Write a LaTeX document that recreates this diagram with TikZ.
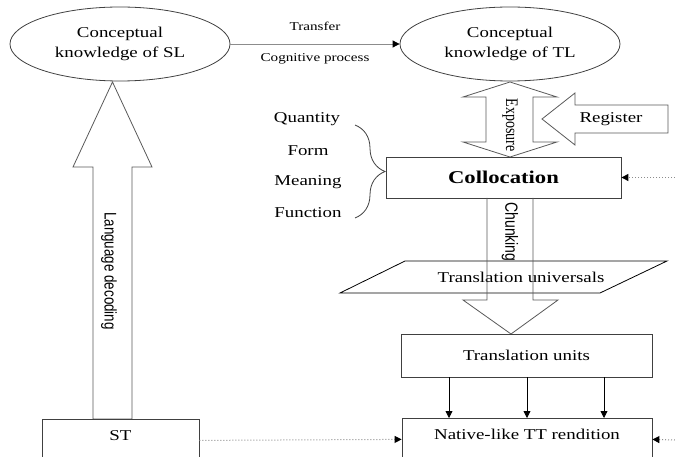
\documentclass[tikz,border=0pt]{standalone}
\usepackage{fontspec}
\usepackage{graphicx}
\setmainfont{Liberation Serif}
\setsansfont{Liberation Sans}
\usetikzlibrary{arrows.meta, shapes.geometric, decorations.pathreplacing}

% the scanned figure is wider than tall
\newcommand{\wide}[1]{\scalebox{1.26}[1]{#1}}
\newcommand{\tall}[1]{\scalebox{1}[1.26]{#1}}
\newcommand{\twolines}[2]{\wide{\begin{tabular}{@{}c@{}}#1\\#2\end{tabular}}}

\tikzset{
  oval/.style={draw=black!75, ellipse, minimum width=220pt, minimum height=74pt, inner sep=0pt, font=\fontsize{15}{20}\selectfont},
  box/.style={draw=black!75, rectangle, inner sep=0pt, font=\fontsize{15}{20}\selectfont},
  lbl/.style={inner sep=0pt, font=\fontsize{15}{20}\selectfont},
  small/.style={inner sep=0pt, font=\fontsize{12}{14}\selectfont},
  vlbl/.style={inner sep=0pt, rotate=-90, font=\sffamily\fontsize{13.4}{15}\selectfont},
  blockarrow/.style={draw=black!65, line join=miter},
  tip/.style={-{Triangle[length=7pt,width=7pt,black]}},
  dots/.style={draw=black!45, dotted, line width=1pt, -{Triangle[length=7pt,width=7pt,black]}}
}

\begin{document}
\begin{tikzpicture}[x=1pt, y=-1pt, line width=0.8pt]
\clip (0,0) rectangle (675,457);

% concepts
\node[oval] (sl) at (120,44) {\twolines{Conceptual}{knowledge of SL}};
\node[oval] (tl) at (510,44) {\twolines{Conceptual}{knowledge of TL}};
\draw[draw=black!45, tip] (sl.east) -- (tl.west)
  node[small, midway, above=13pt] (trans) {\wide{Transfer}}
  node[small, midway, below=9pt] (cogn) {\wide{Cognitive process}};

% language decoding
\draw[blockarrow] (112.5,82) -- (152,167) -- (132,167) -- (132,419) -- (93,419) -- (93,167) -- (73,167) -- cycle;
\node[vlbl] (lang) at (109,271) {\tall{Language decoding}};

% exposure and register
\draw[blockarrow] (510,82) -- (557,97) -- (533,97) -- (533,142) -- (557,142) -- (510,157)
  -- (463,142) -- (486,142) -- (486,97) -- (463,97) -- cycle;
\node[vlbl, font=\fontsize{14}{16}\selectfont] (expo) at (510,125) {\tall{Exposure}};
\draw[blockarrow] (542,119) -- (575,93) -- (575,105) -- (668,105) -- (668,133) -- (575,133) -- (575,145) -- cycle;
\node[lbl] (reg) at (611,119) {\wide{Register}};

% collocation
\node[box, minimum width=235pt, minimum height=41pt, font=\bfseries\fontsize{18}{20}\selectfont] (coll) at (503.5,177.5) {\wide{Collocation}};
\coordinate (colin) at (675,177.5);
\draw[dots] (colin) -- (coll.east);

\node[lbl] (quan) at (307,119) {\wide{Quantity}};
\node[lbl] (form) at (308,151) {\wide{Form}};
\node[lbl] (mean) at (308,182) {\wide{Meaning}};
\node[lbl] (func) at (308,213) {\wide{Function}};
\draw[black!75, decorate, decoration={brace, amplitude=30pt}] (355,125) -- (355,218);

% chunking
\draw (405,261) -- (667,261) -- (600,293) -- (340,293) -- cycle;
\node[lbl] (univ) at (521,277) {\wide{Translation universals}};
\draw[blockarrow] (487,198) -- (487,300) -- (463,300) -- (511,334) -- (558,300) -- (533,300) -- (533,198);
\node[vlbl, font=\sffamily\fontsize{14}{16}\selectfont] (chunk) at (510,232) {\tall{Chunking}};

% units and rendition
\node[box, minimum width=251pt, minimum height=43pt] (tu) at (526.5,355.5) {\wide{Translation units}};
\node[box, anchor=north, minimum width=157pt, text height=15pt, text depth=40pt, inner ysep=6pt] (st) at (120.5,419) {\wide{ST}};
\node[box, anchor=north, minimum width=250pt, text height=15pt, text depth=40pt, inner ysep=6pt] (nt) at (527,418) {\wide{Native-like TT rendition}};
\foreach \x in {449,527,604} {
  \coordinate (k) at (\x,0);
  \draw[tip] (tu.south -| k) -- (nt.north -| k);
}
\draw[dots] (st.base east) -- (nt.base west);
\coordinate (ntin) at (675,440);
\draw[dots] (ntin) -- (nt.base east);
\end{tikzpicture}
\end{document}
